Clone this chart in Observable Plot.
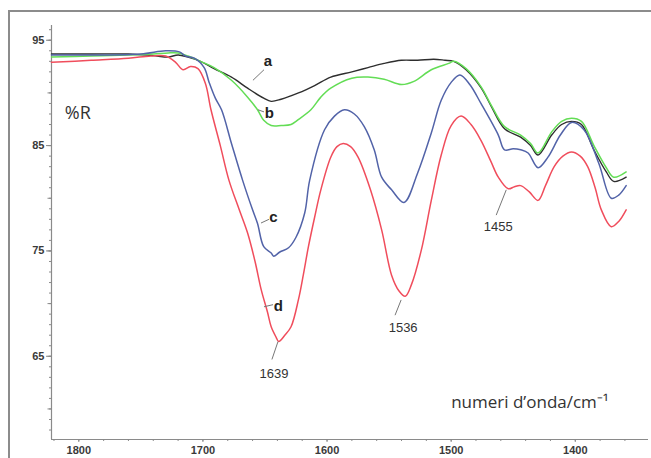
<!DOCTYPE html>
<html><head><meta charset="utf-8">
<script src="https://cdn.jsdelivr.net/npm/d3@7"></script>
<script src="https://cdn.jsdelivr.net/npm/@observablehq/plot@0.6"></script>
<style>
html,body{margin:0;padding:0;background:#fff;overflow:hidden;}
#wrap{position:relative;width:651px;height:458px;overflow:hidden;}
.bar{position:absolute;background:#8c8c8c;pointer-events:none;}
#topbar{left:8px;top:10px;width:643px;height:2px;}
#leftbar{left:8px;top:10px;width:2px;height:448px;}
</style></head>
<body><div id="wrap"><div id="topbar" class="bar"></div><div id="leftbar" class="bar"></div></div>
<script>
// series a (black)
const aWn = [1822,1790,1760,1745,1737,1728,1720,1712,1702,1691,1677,1664,1651,1645,1637,1623,1610,1597,1580,1567,1554,1540,1527,1514,1505,1498,1488,1476,1468,1457,1444,1436,1430,1419,1411,1403,1395,1385,1375,1369,1359];
const aR  = [93.7,93.7,93.7,93.6,93.5,93.4,93.6,93.4,93.0,92.3,91.5,90.45,89.5,89.2,89.4,90.0,90.7,91.5,92.0,92.4,92.8,93.1,93.1,93.2,93.1,93.0,92.2,90.5,88.8,86.6,85.8,85.0,84.1,86.0,87.0,87.3,87.0,84.6,82.5,81.6,82.0];
// series b (green)
const bWn = [1822,1790,1760,1740,1728,1720,1712,1702,1691,1677,1664,1656,1651,1645,1637,1629,1624,1613,1605,1597,1580,1567,1554,1540,1530,1516,1502,1498,1488,1476,1468,1457,1444,1436,1430,1419,1411,1403,1395,1385,1375,1369,1359];
const bR  = [93.4,93.5,93.6,93.7,93.8,93.8,93.5,93.0,92.4,91.2,89.6,88.4,87.4,86.9,86.9,87.0,87.4,88.4,89.6,90.45,91.4,91.5,91.3,90.8,91.1,92.2,92.8,93.0,92.3,90.6,88.9,86.8,86.0,85.2,84.3,86.3,87.3,87.6,87.3,85.0,82.9,82.0,82.5];
// series c (blue)
const cWn = [1822,1790,1750,1730,1719,1714,1707,1699,1695,1690,1685,1677,1668,1660,1656,1651,1645,1643,1638,1631,1625,1618,1614,1602,1594,1586,1578,1570,1562,1556,1548,1538,1527,1516,1508,1500,1493,1485,1476,1462,1457,1450,1444,1438,1430,1422,1412,1403,1393,1381,1371,1365,1359];
const cR  = [93.6,93.6,93.7,94.0,93.9,93.5,93.3,92.4,91.0,89.5,88.4,85.2,81.7,78.9,77.6,75.4,74.8,74.5,74.9,75.3,76.3,78.6,81.7,86.5,87.8,88.4,88.0,86.8,84.6,82.0,80.8,79.6,82.4,86.2,89.3,91.0,91.7,90.8,89.0,86.0,84.6,84.7,84.6,84.3,82.9,83.9,86.0,87.2,86.5,83.3,80.0,80.3,81.2];
// series d (red)
const dWn = [1822,1790,1760,1742,1730,1722,1716,1710,1704,1698,1693.5,1686,1679,1671,1664,1658,1653,1648,1645,1641,1639,1634,1629,1623,1619,1615,1610,1605,1597,1592,1587,1581,1575,1565,1556,1548,1542,1537,1532,1524,1516,1508,1500,1492,1484,1476,1468,1462,1454,1449,1444,1437,1430,1424,1417,1410,1403,1396,1390,1384,1379,1371,1365,1359];
const dR  = [92.9,93.1,93.3,93.5,93.5,92.9,92.2,92.5,92.3,90.9,88.4,85.0,81.7,79.0,76.7,74.0,71.3,69.2,67.8,66.8,66.4,67.0,67.8,70.4,72.8,75.4,78.2,80.8,83.9,84.9,85.2,84.9,83.9,80.8,77.0,72.7,71.2,70.7,71.8,75.1,79.8,84.1,86.9,87.8,87.0,85.5,83.5,82.0,80.9,81.1,81.2,80.6,79.8,81.2,83.0,84.0,84.4,84.0,83.0,81.0,78.9,77.3,77.8,78.9];

const yTickLabels = [65,75,85,95];
const xTickLabels = [1400,1500,1600,1700,1800];

// annotation labels
const curveLabels = [
  {t:"a", wn:1647.6, r:93.0, x1:1659.7, y1:91.2, x2:1650.8, y2:92.2},
  {t:"b", wn:1646.5, r:88.1, x1:1655.6, y1:88.4, x2:1650.8, y2:88.2},
  {t:"c", wn:1643.2, r:78.2, x1:1653.2, y1:77.65, x2:1646.8, y2:78.0},
  {t:"d", wn:1639.2, r:69.8, x1:1650.8, y1:69.7, x2:1643.5, y2:69.9}
];
const peakLabels = [
  {t:"1639", wn:1642.7, r:63.3, x1:1639.5, y1:66.4, x2:1644.4, y2:64.7},
  {t:"1536", wn:1538.7, r:67.7, x1:1540.3, y1:70.35, x2:1545.2, y2:68.9},
  {t:"1455", wn:1462.1, r:77.3, x1:1455.6, y1:80.8, x2:1463.7, y2:78.4}
];
const yTitle = "%R";
const xTitle = "numeri d\u2019onda/cm\u207B\u00B9";

const toRows = (wn, r) => wn.map((w,i)=>({wn:w, r:r[i]}));
const xDom = [1822, 1341];
const yDom = [57.1, 96.4];
const axisColor = "#8a8a8a";

const chart = Plot.plot({
  width: 651, height: 458,
  marginLeft: 51, marginRight: 3, marginTop: 25, marginBottom: 19,
  x: {domain: xDom, axis: null},
  y: {domain: yDom, axis: null},
  style: {fontFamily: "Liberation Sans, Arial, sans-serif", background: "transparent"},
  marks: [
    Plot.ruleX([xDom[0]], {stroke: axisColor, strokeWidth: 1.2}),
    Plot.ruleY([yDom[0]], {stroke: axisColor, strokeWidth: 1.2}),
    Plot.axisY({ticks: d3.range(58, 97, 1), anchor: "left", tickSize: 2, text: null, stroke: axisColor}),
    Plot.axisY({ticks: d3.range(60, 97, 5), anchor: "left", tickSize: 3.5, text: null, stroke: axisColor}),
    Plot.axisY({ticks: yTickLabels, anchor: "left", tickSize: 5, tickPadding: 2, stroke: axisColor, fill: "#3a3a3a", fontSize: 11, fontWeight: "bold", label: null}),
    Plot.axisX({ticks: d3.range(1360, 1821, 20), anchor: "bottom", tickSize: 2, text: null, stroke: axisColor}),
    Plot.axisX({ticks: xTickLabels, anchor: "bottom", tickSize: 3, tickPadding: 4, tickFormat: d3.format("d"), stroke: axisColor, fill: "#3a3a3a", fontSize: 11, fontWeight: "bold", label: null}),
    Plot.line(toRows(aWn, aR), {x: "wn", y: "r", stroke: "#2e2e2e", strokeWidth: 1.4, curve: "catmull-rom"}),
    Plot.line(toRows(bWn, bR), {x: "wn", y: "r", stroke: "#63dd55", strokeWidth: 1.5, curve: "catmull-rom"}),
    Plot.line(toRows(cWn, cR), {x: "wn", y: "r", stroke: "#5263a8", strokeWidth: 1.5, curve: "catmull-rom"}),
    Plot.line(toRows(dWn, dR), {x: "wn", y: "r", stroke: "#f04d5c", strokeWidth: 1.5, curve: "catmull-rom"}),
    Plot.link(curveLabels, {x1: "x1", y1: "y1", x2: "x2", y2: "y2", stroke: "#777", strokeWidth: 1}),
    Plot.text(curveLabels, {x: "wn", y: "r", text: "t", fontSize: 15, fontWeight: "bold", fill: "#222"}),
    Plot.link(peakLabels, {x1: "x1", y1: "y1", x2: "x2", y2: "y2", stroke: "#777", strokeWidth: 1}),
    Plot.text(peakLabels, {x: "wn", y: "r", text: "t", fontSize: 13, fill: "#333"}),
    Plot.text([yTitle], {x: 1800.8, y: 88.1, text: d => d, fontSize: 18, fill: "#333", fontFamily: "Open Sans, sans-serif"}),
    Plot.text([xTitle], {x: 1500, y: 60.6, text: d => d, textAnchor: "start", fontSize: 17, fill: "#333", fontFamily: "Open Sans, sans-serif"})
  ]
});
const wrap = document.getElementById("wrap");
wrap.insertBefore(chart, wrap.firstChild);
chart.style.position = "absolute"; chart.style.left = "0"; chart.style.top = "0";
</script>
</body></html>
